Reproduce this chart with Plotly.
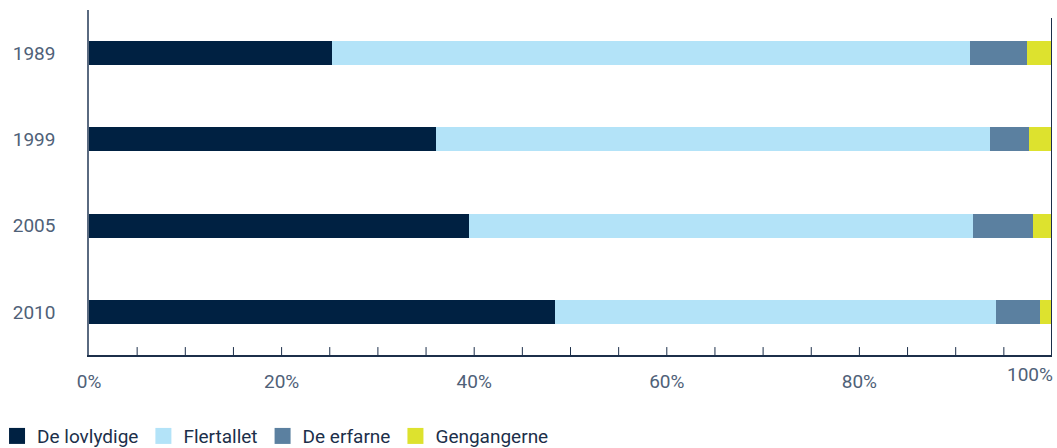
import plotly.graph_objects as go

years = ["1989", "1999", "2005", "2010"]
series_names = ["De lovlydige", "Flertallet", "De erfarne", "Gengangerne"]
de_lovlydige = [25.2, 36.0, 39.5, 48.4]
flertallet = [66.3, 57.6, 52.3, 45.8]
de_erfarne = [5.9, 4.0, 6.2, 4.6]
gengangerne = [2.6, 2.4, 2.0, 1.2]
colors = ["#002142", "#b3e3f8", "#5b80a0", "#dde22e"]
tick_vals = [0, 20, 40, 60, 80]
tick_text = ["0%", "20%", "40%", "60%", "80%"]
last_tick_val = 100
last_tick_text = "100%"

fig = go.Figure()
for name, vals, col in zip(series_names, [de_lovlydige, flertallet, de_erfarne, gengangerne], colors):
    fig.add_trace(go.Bar(y=years, x=vals, name=name, orientation="h", showlegend=False,
                         hoverinfo="skip",
                         marker=dict(color=col, line=dict(width=0))))
# legend entries with larger square symbols
for name, col in zip(series_names, colors):
    fig.add_trace(go.Scatter(x=[None], y=[None], mode="markers", name=name,
                             marker=dict(symbol="square", size=16, color=col),
                             showlegend=True))

fig.update_layout(
    barmode="stack",
    bargap=0.72,
    width=1057, height=448,
    margin=dict(l=89, r=5, t=10, b=93, autoexpand=False),
    plot_bgcolor="white", paper_bgcolor="white",
    font=dict(family="Roboto", size=18, color="#4f6178"),
    legend=dict(orientation="h", xref="paper", yref="paper",
                x=-0.0955, xanchor="left", y=-0.235, yanchor="middle",
                font=dict(size=19, color="#1c2f4a"), itemwidth=30,
                itemsizing="trace", traceorder="normal"),
    xaxis=dict(range=[0, 100], tickvals=tick_vals, ticktext=tick_text, automargin=False,
               showgrid=False, zeroline=False, showline=True, linecolor="#1c2f4a", linewidth=1.5,
               ticks="", ticklabelstandoff=8, tickfont=dict(size=19, color="#4f6178")),
    yaxis=dict(autorange="reversed", showgrid=False, zeroline=False, automargin=False,
               showline=True, linecolor="#5a6a80", linewidth=1.5, ticks="",
               ticklabelstandoff=28, tickfont=dict(size=19, color="#4f6178")),
)

fig.add_annotation(x=last_tick_val, xref="x", y=0, yref="paper", text=last_tick_text,
                   showarrow=False, xanchor="right", xshift=3, yanchor="top", yshift=-6,
                   font=dict(size=19, color="#4f6178"))

# minor ticks every 5% pointing inward
for v in range(5, 100, 5):
    fig.add_shape(type="line", xref="x", yref="paper", x0=v, x1=v, y0=0, y1=0.023,
                  line=dict(color="#1c2f4a", width=1))
fig.add_shape(type="line", xref="x", yref="paper", x0=100, x1=100, y0=0, y1=0.977,
              line=dict(color="#1c2f4a", width=2))

fig.write_html("out.html",
               config={"displayModeBar": False},
               post_script="document.body.style.margin='0';document.body.style.overflow='hidden';")
